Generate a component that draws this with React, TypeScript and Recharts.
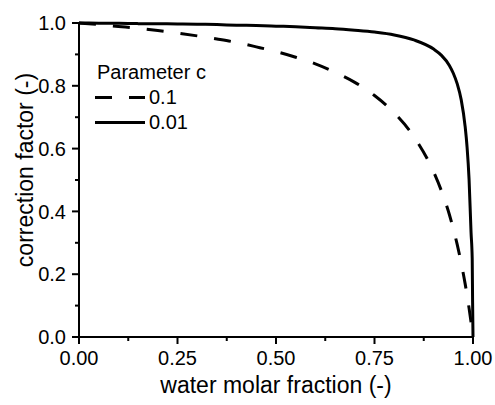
import React from 'react';
import { LineChart, Line, XAxis, YAxis, Legend, Label } from 'recharts';

// values
const waterFraction = [
  0, 0.05, 0.1, 0.15, 0.2, 0.25, 0.3, 0.35, 0.4, 0.45, 0.5, 0.55, 0.6, 0.65, 0.7,
  0.75, 0.8, 0.85, 0.9, 0.92, 0.94, 0.95, 0.96, 0.97, 0.98, 0.985, 0.99, 0.995,
  0.998, 0.999, 1,
];
const factorC01 = [
  1, 0.995, 0.989, 0.983, 0.976, 0.968, 0.959, 0.949, 0.938, 0.924, 0.909, 0.891,
  0.870, 0.843, 0.811, 0.769, 0.714, 0.638, 0.526, 0.465, 0.390, 0.345, 0.294,
  0.236, 0.170, 0.132, 0.092, 0.048, 0.020, 0.010, 0,
];
const factorC001 = [
  1, 0.9995, 0.999, 0.998, 0.9975, 0.997, 0.996, 0.995, 0.993, 0.992, 0.990, 0.988,
  0.985, 0.982, 0.977, 0.971, 0.962, 0.946, 0.917, 0.897, 0.865, 0.840, 0.806,
  0.756, 0.671, 0.604, 0.503, 0.334, 0.249, 0.111, 0,
];

const xTicks = [0, 0.125, 0.25, 0.375, 0.5, 0.625, 0.75, 0.875, 1];
const yTicks = [0, 0.1, 0.2, 0.3, 0.4, 0.5, 0.6, 0.7, 0.8, 0.9, 1];
const legendTitle = 'Parameter c';
const seriesOrder = ['c01', 'c001'];
const dashPattern = '17 17';

const data = waterFraction.map((x, i) => ({
  x,
  c01: factorC01[i],
  c001: factorC001[i],
}));

const isMajorX = (v: number) => Math.abs(v * 4 - Math.round(v * 4)) < 1e-6;
const isMajorY = (v: number) => Math.round(v * 10) % 2 === 0;

const BottomTick = ({ x, y, payload }: any) => {
  const major = isMajorX(payload.value);
  return (
    <g>
      <line x1={x} x2={x} y1={y} y2={y + (major ? 7 : 4)} stroke="#000" strokeWidth={2} />
      {major && (
        <text x={x} y={y + 28} textAnchor="middle" fontSize={20} fill="#000">
          {payload.value.toFixed(2)}
        </text>
      )}
    </g>
  );
};

const TopTick = ({ x, y, payload }: any) => {
  const major = isMajorX(payload.value);
  return <line x1={x} x2={x} y1={y} y2={y + (major ? 5 : 3)} stroke="#000" strokeWidth={2} />;
};

const LeftTick = ({ x, y, payload }: any) => {
  const major = isMajorY(payload.value);
  return (
    <g>
      <line x1={x - (major ? 7 : 4)} x2={x} y1={y} y2={y} stroke="#000" strokeWidth={2} />
      {major && (
        <text x={x - 13} y={y} dy="0.36em" textAnchor="end" fontSize={20} fill="#000">
          {payload.value.toFixed(1)}
        </text>
      )}
    </g>
  );
};

const RightTick = ({ x, y, payload }: any) => {
  const major = isMajorY(payload.value);
  return <line x1={x - (major ? 5 : 3)} x2={x} y1={y} y2={y} stroke="#000" strokeWidth={2} />;
};

const YTitle = (props: any) => {
  const vb = props.viewBox || { y: 23, height: 314 };
  const cx = 25;
  const cy = vb.y + vb.height / 2 - 10;
  return (
    <text
      x={cx}
      y={cy}
      dy="0.36em"
      transform={`rotate(-90 ${cx} ${cy})`}
      textAnchor="middle"
      fontSize={23}
      fill="#000"
    >
      correction factor (-)
    </text>
  );
};

const LegendBox = ({ payload }: any) => {
  const items = [...(payload || [])].sort(
    (a: any, b: any) => seriesOrder.indexOf(a.dataKey) - seriesOrder.indexOf(b.dataKey),
  );
  return (
    <div style={{ fontSize: 20, lineHeight: '25px', color: '#000' }}>
      <div style={{ paddingLeft: 2 }}>{legendTitle}</div>
      {items.map((entry: any) => (
        <div key={entry.value} style={{ display: 'flex', alignItems: 'center', height: 25 }}>
          <svg width={54} height={25}>
            <line
              x1={0}
              x2={50}
              y1={12.5}
              y2={12.5}
              stroke="#000"
              strokeWidth={3}
              strokeDasharray={entry.dataKey === 'c01' ? dashPattern : undefined}
            />
          </svg>
          <span>{entry.value}</span>
        </div>
      ))}
    </div>
  );
};

const App = () => {
  return (
    <div style={{ position: 'absolute', left: 0, top: 0, fontFamily: '"Liberation Sans", Arial, sans-serif' }}>
      <LineChart width={495} height={405} data={data} margin={{ top: 23, right: 22, bottom: 0, left: 0 }}>
        <XAxis
          dataKey="x"
          type="number"
          domain={[0, 1]}
          ticks={xTicks}
          interval={0}
          height={68}
          tickSize={0}
          tickMargin={0}
          tickLine={false}
          tick={<BottomTick />}
          axisLine={{ stroke: '#000', strokeWidth: 2 }}
          label={{ value: 'water molar fraction (-)', position: 'insideBottom', offset: 12, fontSize: 23, fill: '#000' }}
        />
        <XAxis
          xAxisId="top"
          orientation="top"
          type="number"
          domain={[0, 1]}
          ticks={xTicks}
          interval={0}
          height={0}
          tickSize={0}
          tickMargin={0}
          tickLine={false}
          tick={<TopTick />}
          axisLine={{ stroke: '#000', strokeWidth: 2 }}
        />
        <YAxis
          type="number"
          domain={[0, 1]}
          ticks={yTicks}
          interval={0}
          width={79}
          tickSize={0}
          tickMargin={0}
          tickLine={false}
          tick={<LeftTick />}
          axisLine={{ stroke: '#000', strokeWidth: 2 }}
        >
          <Label content={YTitle} />
        </YAxis>
        <YAxis
          yAxisId="right"
          orientation="right"
          type="number"
          domain={[0, 1]}
          ticks={yTicks}
          interval={0}
          width={0}
          tickSize={0}
          tickMargin={0}
          tickLine={false}
          tick={<RightTick />}
          axisLine={{ stroke: '#000', strokeWidth: 2 }}
        />
        <Legend
          layout="horizontal"
          verticalAlign="middle"
          content={<LegendBox />}
          wrapperStyle={{ left: 95, top: 60, width: 'auto' }}
        />
        <Line
          type="monotone"
          dataKey="c01"
          name="0.1"
          stroke="#000"
          strokeWidth={3}
          strokeDasharray={dashPattern}
          dot={false}
          activeDot={false}
          isAnimationActive={false}
        />
        <Line
          type="monotone"
          dataKey="c001"
          name="0.01"
          stroke="#000"
          strokeWidth={3}
          dot={false}
          activeDot={false}
          isAnimationActive={false}
        />
      </LineChart>
    </div>
  );
};

export default App;
